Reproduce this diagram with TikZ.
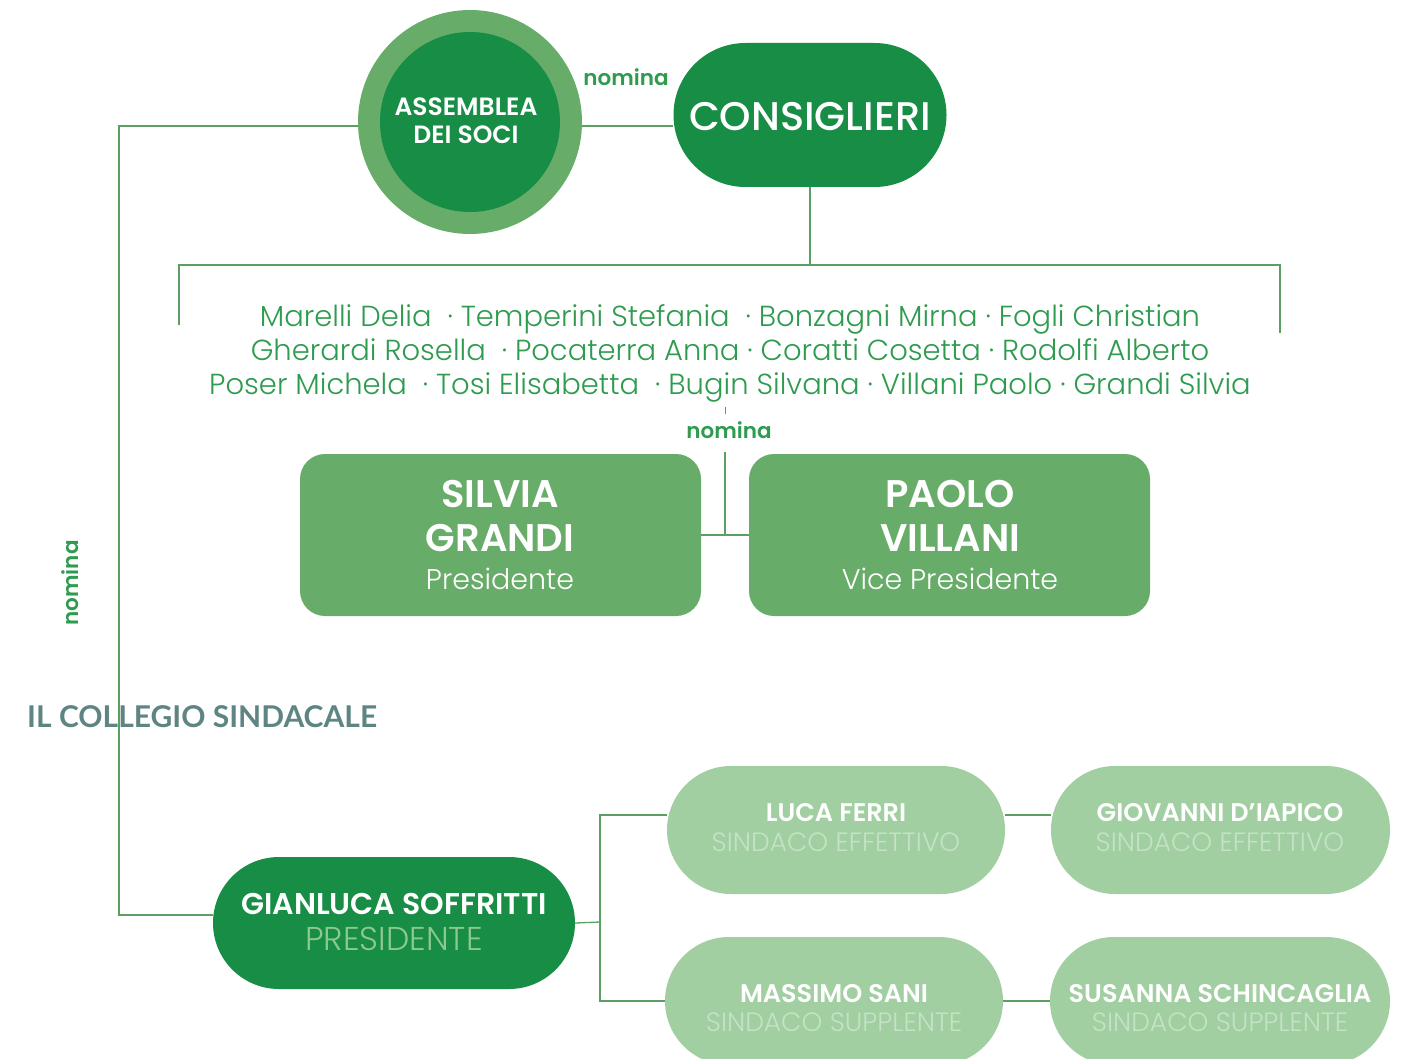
\documentclass[tikz,border=0pt]{standalone}
\usepackage{fontspec}
\setmainfont{Poppins}
\newfontfamily\plight{Poppins Light}
\newfontfamily\psemi{Poppins SemiBold}
\newfontfamily\pmed{Poppins Medium}
\newfontfamily\latof{Lato}
\usetikzlibrary{positioning}
\definecolor{dkgreen}{HTML}{178D45}
\definecolor{mdgreen}{HTML}{67AC69}
\definecolor{ltgreen}{HTML}{A1CFA2}
\definecolor{linegreen}{HTML}{5C9F62}
\definecolor{txtgreen}{HTML}{2E9B4F}
\definecolor{graytxt}{HTML}{5E8583}
\definecolor{subdk}{HTML}{8CC98F}
\definecolor{sublt}{HTML}{C4E2C5}
\tikzset{
  conn/.style={draw=linegreen, line width=1.3pt},
  lbl/.style={text=txtgreen, font=\psemi\fontsize{21.5}{24}\selectfont, inner sep=0pt},
  sbox/.style={fill=mdgreen, rounded corners=25pt, minimum width=401pt, minimum height=162pt, inner sep=0pt},
  pill/.style={rounded corners=64pt, inner sep=0pt},
  bigname/.style={text=white, font=\psemi\fontsize{38.5}{44}\selectfont, inner sep=0pt},
  role/.style={text=white, font=\plight\fontsize{28.5}{32}\selectfont, inner sep=0pt},
  pname/.style={text=white, font=\psemi\fontsize{25.5}{30}\selectfont, inner sep=0pt},
  psub/.style={font=\plight\fontsize{26.5}{30}\selectfont, inner sep=0pt},
}
\begin{document}
\begin{tikzpicture}[x=1pt,y=-1pt]
\useasboundingbox (0,0) rectangle (1402,1059);
% top
\node[circle, fill=mdgreen, minimum size=224pt, inner sep=0pt] (ass) at (470,122) {};
\node[circle, fill=dkgreen, minimum size=180pt, inner sep=0pt] (assin) at (470,122) {};
\node[text=white, font=\psemi\fontsize{25}{28}\selectfont, align=center, inner sep=0pt] (asst) at (466,121) {ASSEMBLEA\\DEI SOCI};
\node[fill=dkgreen, rounded corners=72pt, minimum width=273pt, minimum height=144pt, inner sep=0pt] (cons) at (810,115) {};
\node[text=white, font=\pmed\fontsize{40}{44}\selectfont, inner sep=0pt] (const) at (810,117) {CONSIGLIERI};
\node[lbl] (nom1) at (626,77) {nomina};
\draw[conn] (582,126) -- (673,126);
% left long connector
\coordinate (lt) at (119,126);
\coordinate (lb) at (119,915);
\draw[conn] (358,126) -- (lt) -- (lb) -- (213,915);
\node[lbl, rotate=90] (nom3) at (70,583) {nomina};
% consiglieri to names
\coordinate (cb) at (810,265);
\coordinate (hl) at (179,265);
\coordinate (hr) at (1280,265);
\draw[conn] (cons.south) -- (cb);
\draw[conn] (179,325) -- (hl) -- (hr) -- (1280,333);
\node[text=txtgreen, font=\plight\fontsize{29}{34}\selectfont, align=center, inner sep=0pt] (names) at (730,353)
{Marelli Delia \ · Temperini Stefania \ · Bonzagni Mirna · Fogli Christian\\
Gherardi Rosella \ · Pocaterra Anna · Coratti Cosetta · Rodolfi Alberto\\
Poser Michela \ · Tosi Elisabetta \ · Bugin Silvana · Villani Paolo · Grandi Silvia};
\draw[conn, line width=0.8pt] (725,407) -- (725,414);
\node[lbl] (nom2) at (729,430) {nomina};
% president boxes
\node[sbox] (silvia) at (500.5,535) {};
\node[sbox] (paolo) at (949.5,535) {};
\node[bigname] at (500,494) {SILVIA};
\node[bigname] at (500,538) {GRANDI};
\node[role] at (500,579) {Presidente};
\node[bigname] at (950,494) {PAOLO};
\node[bigname] at (950,538) {VILLANI};
\node[role] at (950,579) {Vice Presidente};
\coordinate (mid) at (725,535);
\draw[conn] (725,452) -- (mid);
\draw[conn] (silvia.east) -- (paolo.west);
% collegio
\node[text=graytxt, font=\latof\bfseries\fontsize{30}{34}\selectfont, inner sep=0pt, anchor=west] (coll) at (27,717) {IL COLLEGIO SINDACALE};
% bottom
\node[pill, fill=dkgreen, minimum width=362pt, minimum height=132pt, rounded corners=66pt] (gian) at (394,923) {};
\node[pname, font=\psemi\fontsize{30}{34}\selectfont] at (394,904) {GIANLUCA SOFFRITTI};
\node[psub, text=subdk, font=\plight\fontsize{33}{36}\selectfont] at (394,939) {PRESIDENTE};
\node[pill, fill=ltgreen, minimum width=338pt, minimum height=128pt] (luca) at (836,830) {};
\node[pill, fill=ltgreen, minimum width=339pt, minimum height=128pt] (giov) at (1220.5,830) {};
\node[pill, fill=ltgreen, minimum width=338pt, minimum height=128pt] (mass) at (834,1001) {};
\node[pill, fill=ltgreen, minimum width=340pt, minimum height=128pt] (susa) at (1220,1001) {};
\node[pname] at (836,813) {LUCA FERRI};
\node[psub, text=sublt] at (836,842) {SINDACO EFFETTIVO};
\node[pname] at (1220,813) {GIOVANNI D’IAPICO};
\node[psub, text=sublt] at (1220,842) {SINDACO EFFETTIVO};
\node[pname] at (834,994) {MASSIMO SANI};
\node[psub, text=sublt] at (834,1022) {SINDACO SUPPLENTE};
\node[pname] at (1220,994) {SUSANNA SCHINCAGLIA};
\node[psub, text=sublt] at (1220,1022) {SINDACO SUPPLENTE};
\coordinate (bt) at (600,815);
\coordinate (bb) at (600,1001);
\draw[conn] (gian.east) -- (600,922);
\draw[conn] (luca.west |- bt) -- (bt) -- (bb) -- (mass.west |- bb);
\draw[conn] (1005,815) -- (1051,815);
\draw[conn] (mass.east) -- (susa.west);
\end{tikzpicture}
\end{document}
